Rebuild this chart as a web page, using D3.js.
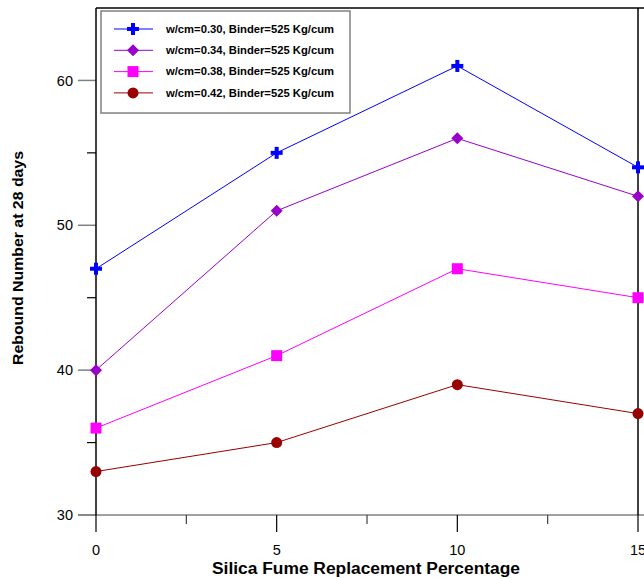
<!DOCTYPE html>
<html><head><meta charset="utf-8">
<script src="https://cdn.jsdelivr.net/npm/d3@7"></script>
<style>body{margin:0;background:#fff}svg{display:block}</style>
</head><body><svg id="c" width="644" height="578"></svg>
<script>
const xValues = [0, 5, 10, 15];
const seriesNames = ["w/cm=0.30, Binder=525 Kg/cum","w/cm=0.34, Binder=525 Kg/cum","w/cm=0.38, Binder=525 Kg/cum","w/cm=0.42, Binder=525 Kg/cum"];
const s030 = [47, 55, 61, 54];
const s034 = [40, 51, 56, 52];
const s038 = [36, 41, 47, 45];
const s042 = [33, 35, 39, 37];
const xTicks = [0, 5, 10, 15];
const xMinorTicks = [2.5, 7.5, 12.5];
const yTicks = [30, 40, 50, 60];
const yMinorTicks = [35, 45, 55];

const series = [
  {name: seriesNames[0], values: s030, color: "#0000ff", marker: "plus"},
  {name: seriesNames[1], values: s034, color: "#9900cc", marker: "diamond"},
  {name: seriesNames[2], values: s038, color: "#ff00ff", marker: "square"},
  {name: seriesNames[3], values: s042, color: "#990000", marker: "circle"}
];

const svg = d3.select("#c");
const L = 96, R = 638, T = 8, B = 515;
const x = d3.scaleLinear().domain([0, 15]).range([L, R]);
const y = d3.scaleLinear().domain([30, 65]).range([B, T]);
const font = "'Liberation Sans', Arial, sans-serif";

svg.append("line").attr("x1", 78).attr("x2", 644).attr("y1", B).attr("y2", B).attr("stroke", "#808080").attr("stroke-width", 1.5);
svg.append("line").attr("x1", L).attr("x2", 644).attr("y1", T).attr("y2", T).attr("stroke", "#000").attr("stroke-width", 1.5);

const ya = svg.append("g");
ya.selectAll("line.maj").data(yTicks).join("line").attr("class","maj")
  .attr("x1", 78).attr("x2", L).attr("y1", d => y(d)).attr("y2", d => y(d)).attr("stroke", "#808080").attr("stroke-width", 1.5);
ya.selectAll("line.min").data(yMinorTicks).join("line").attr("class","min")
  .attr("x1", 87).attr("x2", L).attr("y1", d => y(d)).attr("y2", d => y(d)).attr("stroke", "#000").attr("stroke-width", 1.2);
ya.selectAll("text").data(yTicks).join("text")
  .attr("x", 73).attr("y", d => y(d)).attr("dy", "0.35em").attr("text-anchor", "end")
  .attr("font-family", font).attr("font-size", 14.5).attr("fill", "#000").text(d => d);

const xa = svg.append("g");
xa.selectAll("line.maj").data(xTicks).join("line").attr("class","maj")
  .attr("x1", d => x(d)).attr("x2", d => x(d)).attr("y1", B).attr("y2", 532).attr("stroke", "#000").attr("stroke-width", 1.2);
xa.selectAll("line.min").data(xMinorTicks).join("line").attr("class","min")
  .attr("x1", d => x(d)).attr("x2", d => x(d)).attr("y1", B).attr("y2", 524).attr("stroke", "#404040").attr("stroke-width", 1.2);
xa.selectAll("text").data(xTicks).join("text")
  .attr("x", d => x(d)).attr("y", 550).attr("dy", "0.35em").attr("text-anchor", "middle")
  .attr("font-family", font).attr("font-size", 14.5).attr("fill", "#000").text(d => d);

svg.append("line").attr("x1", L).attr("x2", L).attr("y1", T).attr("y2", B).attr("stroke", "#000").attr("stroke-width", 1.5);
svg.append("line").attr("x1", R).attr("x2", R).attr("y1", T).attr("y2", B).attr("stroke", "#000").attr("stroke-width", 1.5);

svg.append("text").attr("x", 366).attr("y", 568).attr("dy", "0.35em").attr("text-anchor", "middle")
  .attr("font-family", font).attr("font-size", 16).attr("font-weight", "bold")
  .attr("textLength", 308).attr("lengthAdjust", "spacingAndGlyphs").text("Silica Fume Replacement Percentage");
svg.append("text").attr("transform", `translate(18,258) rotate(-90)`).attr("dy", "0.35em").attr("text-anchor", "middle")
  .attr("font-family", font).attr("font-size", 15.5).attr("font-weight", "bold")
  .attr("textLength", 214).attr("lengthAdjust", "spacingAndGlyphs").text("Rebound Number at 28 days");

function drawMarker(g, type, color) {
  if (type === "plus") {
    g.append("rect").attr("x", -6).attr("y", -2).attr("width", 12).attr("height", 4).attr("fill", color);
    g.append("rect").attr("x", -2).attr("y", -6).attr("width", 4).attr("height", 12).attr("fill", color);
  } else if (type === "diamond") {
    g.append("path").attr("d", "M0,-6L6,0L0,6L-6,0Z").attr("fill", color);
  } else if (type === "square") {
    g.append("rect").attr("x", -5.5).attr("y", -5.5).attr("width", 11).attr("height", 11).attr("fill", color);
  } else {
    g.append("circle").attr("r", 5.5).attr("fill", color);
  }
}

const line = d3.line().x((d, i) => x(xValues[i])).y(d => y(d));
series.forEach(s => {
  svg.append("path").attr("d", line(s.values)).attr("fill", "none").attr("stroke", s.color).attr("stroke-width", 1);
  s.values.forEach((v, i) => {
    const g = svg.append("g").attr("transform", `translate(${x(xValues[i])},${y(v)})`);
    drawMarker(g, s.marker, s.color);
  });
});

const lg = svg.append("g");
lg.append("rect").attr("x", 101).attr("y", 11).attr("width", 249).attr("height", 102)
  .attr("fill", "#fff").attr("stroke", "#808080").attr("stroke-width", 1.5);
series.forEach((s, i) => {
  const cy = 29 + i * 21.3;
  lg.append("line").attr("x1", 114).attr("x2", 153).attr("y1", cy).attr("y2", cy).attr("stroke", s.color).attr("stroke-width", 1);
  const g = lg.append("g").attr("transform", `translate(133,${cy})`);
  drawMarker(g, s.marker, s.color);
  lg.append("text").attr("x", 166).attr("y", cy).attr("dy", "0.35em")
    .attr("font-family", font).attr("font-size", 11).attr("font-weight", "bold")
    .attr("textLength", 168).attr("lengthAdjust", "spacingAndGlyphs").text(s.name);
});
</script></body></html>
